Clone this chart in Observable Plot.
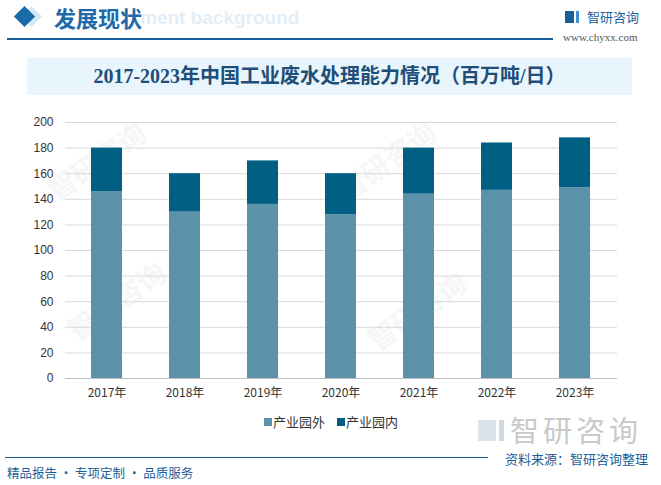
<!DOCTYPE html>
<html>
<head>
<meta charset="utf-8">
<script src="https://cdn.jsdelivr.net/npm/d3@7"></script>
<script src="https://cdn.jsdelivr.net/npm/@observablehq/plot@0.6"></script>
<style>
  html, body { margin: 0; padding: 0; background: #fff; }
  body { width: 661px; height: 485px; position: relative; overflow: hidden; font-family: "Noto Sans CJK SC", "Noto Sans", sans-serif; }
  .abs { position: absolute; white-space: nowrap; }
  .wm { position: absolute; color: #f4f6f8; font-size: 28px; font-weight: bold; transform: rotate(-35deg); white-space: nowrap; }
</style>
</head>
<body>
<!-- watermarks -->
<div class="wm" style="left:40px;top:140px;">智研咨询</div>
<div class="wm" style="left:330px;top:140px;">智研咨询</div>
<div class="wm" style="left:60px;top:280px;">智研咨询</div>
<div class="wm" style="left:360px;top:290px;">智研咨询</div>

<!-- header -->
<div class="abs" style="top:9px;width:15px;height:15px;background:#d6e8f5;transform:rotate(45deg);left:24px;"></div>
<div class="abs" style="left:17px;top:9px;width:15px;height:15px;background:#1a6aa8;transform:rotate(45deg);"></div>
<div class="abs" style="left:140px;top:7px;font-family:'Liberation Sans',sans-serif;font-weight:bold;font-size:19px;color:#e3eef8;">ment background</div>
<div class="abs" style="left:54px;top:2px;font-size:22px;font-weight:bold;color:#1e6aa8;line-height:30px;">发展现状</div>
<div class="abs" style="left:7px;top:38px;width:546px;height:2px;background:#1a5f99;"></div>
<div class="abs" style="left:565px;top:11px;width:9px;height:12px;background:#1a5f99;"></div>
<div class="abs" style="left:576px;top:11px;width:3px;height:12px;background:#3d8fd0;"></div>
<div class="abs" style="left:587px;top:7px;font-size:13px;color:#1a5f99;line-height:20px;">智研咨询</div>
<div class="abs" style="left:563px;top:30px;font-family:'Liberation Serif',serif;font-size:11px;color:#555;line-height:14px;">www.chyxx.com</div>

<!-- title -->
<div class="abs" style="left:27px;top:58px;width:605px;height:37px;background:#e9f5fc;"></div>
<div class="abs" style="left:27px;top:58px;width:605px;height:37px;line-height:37px;text-align:center;font-family:'Liberation Serif','Noto Sans CJK SC',serif;font-weight:bold;font-size:20px;color:#1f4e79;">2017-2023年中国工业废水处理能力情况（百万吨/日）</div>

<!-- chart -->
<div id="chart" class="abs" style="left:0;top:100px;"></div>

<!-- legend -->
<div class="abs" style="left:264px;top:418px;width:8px;height:8px;background:#5b91a9;"></div>
<div class="abs" style="left:273px;top:413px;font-size:13px;color:#333;line-height:18px;">产业园外</div>
<div class="abs" style="left:337px;top:418px;width:8px;height:8px;background:#015f84;"></div>
<div class="abs" style="left:346px;top:413px;font-size:13px;color:#333;line-height:18px;">产业园内</div>

<!-- bottom watermark logo -->
<div class="abs" style="left:478px;top:420px;width:18px;height:21px;background:#dde3ea;"></div>
<div class="abs" style="left:499px;top:420px;width:5px;height:21px;background:#cfd9e4;"></div>
<div class="abs" style="left:510px;top:414px;font-size:29px;color:#c9c9c9;line-height:30px;letter-spacing:4px;">智研咨询</div>

<!-- footer -->
<div class="abs" style="left:5px;top:457px;width:483px;height:1px;background:#1a5f99;"></div>
<div class="abs" style="left:505px;top:451px;font-size:13px;color:#1a5f99;line-height:15px;">资料来源：智研咨询整理</div>
<div class="abs" style="left:7px;top:464px;font-size:12.5px;color:#1a5f99;line-height:18px;">精品报告 · 专项定制 · 品质服务</div>

<script>
const years = ["2017年", "2018年", "2019年", "2020年", "2021年", "2022年", "2023年"];
const outside = [146, 130, 136, 128, 144, 147, 149];   // 产业园外
const inside  = [34, 30, 34, 32, 36, 37, 39];          // 产业园内
const seriesNames = ["产业园外", "产业园内"];
const seriesColors = ["#5b91a9", "#015f84"];
const yTicks = [0, 20, 40, 60, 80, 100, 120, 140, 160, 180, 200];

const data = [];
years.forEach((y, i) => {
  data.push({year: y, series: seriesNames[0], value: outside[i]});
  data.push({year: y, series: seriesNames[1], value: inside[i]});
});

const chart = Plot.plot({
  width: 661,
  height: 310,
  marginLeft: 65,
  marginRight: 44,
  marginTop: 22,
  marginBottom: 32,
  style: {fontFamily: "'Liberation Sans','Noto Sans CJK SC',sans-serif", fontSize: "12px", color: "#333", background: "transparent"},
  x: {domain: years, paddingInner: 0.6, paddingOuter: 0.3, label: null, tickSize: 0, tickPadding: 10},
  y: {domain: [0, 200], ticks: yTicks, label: null, tickSize: 0, tickPadding: 12},
  color: {domain: seriesNames, range: seriesColors},
  marks: [
    Plot.gridY(yTicks, {stroke: "#d9d9d9", strokeOpacity: 1}),
    Plot.barY(data, {x: "year", y: "value", fill: "series", order: seriesNames}),
    Plot.ruleY([0], {stroke: "#bfbfbf"}),
    Plot.axisX({tickSize: 0, tickPadding: 10, label: null, fontFamily: "'Noto Sans CJK SC',sans-serif", fontSize: 12}),
    Plot.axisY({ticks: yTicks, tickSize: 0, tickPadding: 12, label: null})
  ]
});
document.getElementById("chart").appendChild(chart);
</script>
</body>
</html>
